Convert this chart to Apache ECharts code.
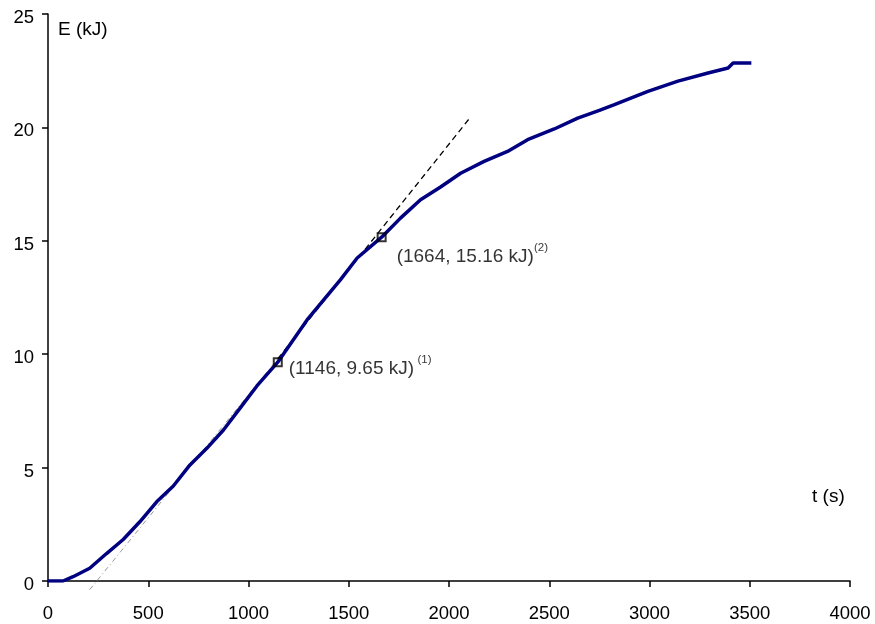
<!DOCTYPE html>
<html>
<head>
<meta charset="utf-8">
<script src="https://cdn.jsdelivr.net/npm/echarts@6/dist/echarts.min.js"></script>
<style>
html,body{margin:0;padding:0;background:#fff;}
#c{width:875px;height:624px;}
</style>
</head>
<body>
<div id="c"></div>
<script>
// Measured curve E(t)
const tData = [0, 75, 125, 208, 292, 375, 458, 542, 625, 708, 792, 875, 958, 1042, 1146, 1292, 1375, 1458, 1542, 1664, 1758, 1858, 1958, 2058, 2175, 2292, 2392, 2525, 2642, 2750, 2825, 2992, 3142, 3292, 3392, 3417, 3508];
const eData = [0, 0, 0.19, 0.56, 1.21, 1.83, 2.61, 3.49, 4.19, 5.12, 5.85, 6.66, 7.62, 8.6, 9.65, 11.51, 12.4, 13.28, 14.24, 15.16, 16.0, 16.81, 17.37, 17.98, 18.5, 18.94, 19.46, 19.93, 20.41, 20.75, 21.0, 21.59, 22.04, 22.4, 22.62, 22.84, 22.84];
// Tangent line (lower grey part, upper black part)
const tanLowT = [208, 1146];
const tanLowE = [-0.38, 9.8];
const tanHighT = [1146, 2107];
const tanHighE = [9.8, 20.45];
// Marked points
const markT = [1146, 1664];
const markE = [9.65, 15.16];
const markLabels = ['(1146, 9.65 kJ)', '(1664, 15.16 kJ)'];
const markSup = ['(1)', '(2)'];
// Axis ticks
const xMin = 0, xMax = 4000, xStep = 500;
const yMin = 0, yMax = 25, yStep = 5;

const zip = (a, b) => a.map((v, i) => [v, b[i]]);
const FONT = '"Liberation Sans", Arial, sans-serif';

const chart = echarts.init(document.getElementById('c'), null, {renderer: 'canvas'});
chart.setOption({
  animation: false,
  backgroundColor: '#fff',
  grid: {left: 48, right: 25, top: 14, bottom: 43, containLabel: false},
  xAxis: {
    type: 'value', min: xMin, max: xMax, interval: xStep,
    axisLine: {lineStyle: {color: '#000', width: 1.5}},
    axisTick: {inside: false, length: 6, lineStyle: {color: '#000', width: 1.5}},
    axisLabel: {color: '#000', fontSize: 18.5, fontFamily: FONT, margin: 23, formatter: v => String(v)},
    splitLine: {show: false}
  },
  yAxis: {
    type: 'value', min: yMin, max: yMax, interval: yStep,
    axisLine: {show: true, lineStyle: {color: '#000', width: 1.5}},
    axisTick: {show: true, inside: false, length: 6, lineStyle: {color: '#000', width: 1.5}},
    axisLabel: {
      color: '#000', fontFamily: FONT, margin: 14,
      formatter: v => '{v|' + v + '}',
      rich: {v: {fontSize: 18.5, fontFamily: FONT, color: '#000', padding: [8, 0, 0, 0]}}
    },
    splitLine: {show: false}
  },
  graphic: [
    {type: 'text', left: 58, top: 20, style: {text: 'E (kJ)', font: '19px ' + FONT, fill: '#000'}},
    {type: 'text', left: 812, top: 487, style: {text: 't (s)', font: '19px ' + FONT, fill: '#000'}}
  ],
  series: [
    {
      type: 'line', data: zip(tanLowT, tanLowE), showSymbol: false, clip: false, z: 1,
      lineStyle: {color: '#999', width: 1, type: [5, 3, 1, 3]}
    },
    {
      type: 'line', data: zip(tanHighT, tanHighE), showSymbol: false, clip: false, z: 1,
      lineStyle: {color: '#000', width: 1.3, type: [6, 4]}
    },
    {
      type: 'line', data: zip(tData, eData), showSymbol: false, z: 2,
      lineStyle: {color: '#000080', width: 3.5}
    },
    {
      type: 'scatter', z: 5, symbol: 'rect', symbolSize: 8,
      itemStyle: {color: 'rgba(0,0,0,0)', borderColor: '#000', borderWidth: 2},
      data: markT.map((t, i) => ({
        value: [t, markE[i]],
        label: {
          show: true, position: 'right', color: '#000',
          offset: i === 0 ? [1, 7] : [5, 20],
          formatter: '{a|' + markLabels[i] + '}' + (i === 0 ? ' ' : '') + '{s|' + markSup[i] + '}',
          rich: {
            a: {fontSize: 19, fontFamily: FONT, color: '#000', lineHeight: 30},
            s: {fontSize: 11.5, fontFamily: FONT, color: '#000', verticalAlign: 'top', lineHeight: 14}
          }
        }
      }))
    }
  ]
});
</script>
</body>
</html>
